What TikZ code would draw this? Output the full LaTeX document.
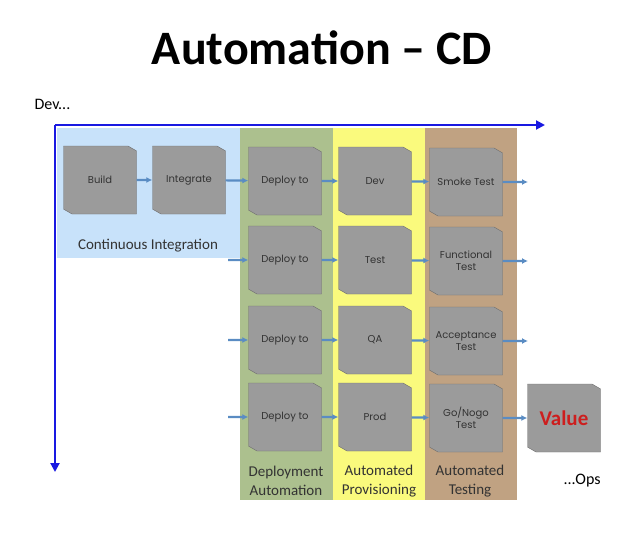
\documentclass[tikz,border=0pt]{standalone}
\usepackage{fontspec}
\setmainfont{Carlito}
\newfontfamily\boxfont{Poppins}
\usetikzlibrary{shapes.misc,arrows.meta,positioning}
\definecolor{axis-blue}{RGB}{25,25,225}
\definecolor{flow-blue}{RGB}{90,140,195}
\definecolor{ci-blue}{RGB}{200,226,250}
\definecolor{deploy-green}{RGB}{172,192,142}
\definecolor{prov-yellow}{RGB}{250,250,125}
\definecolor{test-brown}{RGB}{192,162,130}
\definecolor{step-gray}{RGB}{155,155,155}
\definecolor{step-edge}{RGB}{110,110,110}
\definecolor{value-red}{RGB}{205,30,30}

\begin{document}
\begin{tikzpicture}[x=1pt, y=-1pt,
    stepbox/.style = {chamfered rectangle,
                      chamfered rectangle corners={north east,south west},
                      chamfered rectangle angle=60,
                      chamfered rectangle xsep=3pt,
                      draw=step-edge, fill=step-gray, inner sep=0pt,
                      minimum width=73pt, minimum height=68pt, align=center,
                      font=\boxfont\fontsize{10}{12}\selectfont, text=black!80},
    flow/.style = {-{Latex[length=6pt,width=6pt]}, line width=2.2pt, draw=flow-blue},
    axis/.style = {-{Triangle[length=9pt,width=9pt]}, line width=2pt, draw=axis-blue},
    lane/.style = {font=\fontsize{15}{19}\selectfont, text=black!80, align=center}
  ]
    \useasboundingbox (0,0) rectangle (629,535);

    %% ---- title ----
    \node[font=\bfseries\fontsize{48}{54}\selectfont] (title) at (322,48)
      {Automation -- CD};

    %% ---- coloured lanes ----
    \fill[ci-blue]      (57,128)  rectangle (240,258);
    \fill[deploy-green] (240,128) rectangle (333,500);
    \fill[prov-yellow]  (333,128) rectangle (425,500);
    \fill[test-brown]   (425,128) rectangle (517,500);

    %% ---- Dev / Ops axes ----
    \coordinate (origin) at (55,125);
    \coordinate (devend) at (545,125);
    \coordinate (opsend) at (55,472);
    \draw[axis] (origin) -- (devend);
    \draw[axis] (origin) -- (opsend);
    \node[font=\fontsize{16}{18}\selectfont, anchor=west] (dev) at (31,104) {Dev...};
    \node[font=\fontsize{16}{18}\selectfont, anchor=west] (ops) at (560,481) {...Ops};

    %% ---- continuous integration ----
    \node[stepbox] (build)     at (100,180) {Build};
    \node[stepbox] (integrate) at (189,180) {Integrate};
    \draw[flow] (build) -- (integrate);
    \node[lane] (cilab) at (148,246) {Continuous Integration};

    %% ---- row 1: dev ----
    \node[stepbox] (deploy1) at (285,181) {Deploy to};
    \node[stepbox] (dev1)    at (375,181) {Dev};
    \node[stepbox] (smoke)   at (466,182) {Smoke Test};
    \coordinate (out1) at (528,182);
    \draw[flow] (integrate) -- (deploy1);
    \draw[flow] (deploy1) -- (dev1);
    \draw[flow] (dev1) -- (smoke);
    \draw[flow] (smoke) -- (out1);

    %% ---- row 2: test ----
    \coordinate (in2) at (228,260);
    \node[stepbox] (deploy2) at (285,260) {Deploy to};
    \node[stepbox] (test2)   at (375,260) {Test};
    \node[stepbox] (func)    at (466,261) {Functional\\Test};
    \coordinate (out2) at (528,261);
    \draw[flow] (in2) -- (deploy2);
    \draw[flow] (deploy2) -- (test2);
    \draw[flow] (test2) -- (func);
    \draw[flow] (func) -- (out2);

    %% ---- row 3: QA ----
    \coordinate (in3) at (228,340);
    \node[stepbox] (deploy3) at (285,340) {Deploy to};
    \node[stepbox] (qa3)     at (375,340) {QA};
    \node[stepbox] (accept)  at (466,341) {Acceptance\\Test};
    \coordinate (out3) at (528,341);
    \draw[flow] (in3) -- (deploy3);
    \draw[flow] (deploy3) -- (qa3);
    \draw[flow] (qa3) -- (accept);
    \draw[flow] (accept) -- (out3);

    %% ---- row 4: prod ----
    \coordinate (in4) at (228,417);
    \node[stepbox] (deploy4) at (285,417) {Deploy to};
    \node[stepbox] (prod4)   at (375,417) {Prod};
    \node[stepbox] (gonogo)  at (466,418) {Go/Nogo\\Test};
    \node[stepbox, font=\bfseries\fontsize{21}{23}\selectfont, text=value-red]
      (value) at (564,418) {Value};
    \draw[flow] (in4) -- (deploy4);
    \draw[flow] (deploy4) -- (prod4);
    \draw[flow] (prod4) -- (gonogo);
    \draw[flow] (gonogo) -- (value);

    %% ---- lane labels ----
    \node[lane] (deplab) at (286,481) {Deployment\\Automation};
    \node[lane] (provlab) at (379,481) {Automated\\Provisioning};
    \node[lane] (testlab) at (470,481) {Automated\\Testing};
  \end{tikzpicture}
\end{document}
